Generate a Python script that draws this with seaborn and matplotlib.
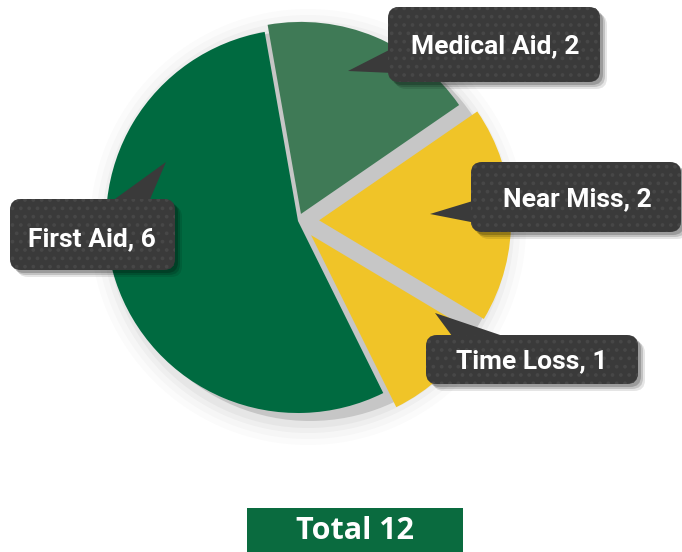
import numpy as np
import pandas as pd
import seaborn as sns
import matplotlib.pyplot as plt
from matplotlib.patches import FancyBboxPatch, Polygon, Circle, Rectangle

# Data (wedge order as drawn, going round from the top)
categories = ['First Aid', 'Time Loss', 'Near Miss', 'Medical Aid']
counts = [6, 1, 2, 2]
total_shown = 12
slice_colors = ['#006a40', '#f0c428', '#f0c428', '#3f7a56']

# Layout of the callouts in pixel space: box (x, y, w, h), text centre, pointer
callouts = {
    'Medical Aid': dict(box=(388, 7, 212, 75), text=(495, 46),
                        tip=[(393, 48), (393, 73), (348, 71)]),
    'Near Miss': dict(box=(471, 162, 210, 70), text=(577, 199),
                      tip=[(476, 200), (476, 223), (430, 214)]),
    'First Aid': dict(box=(10, 199, 165, 71), text=(92, 239),
                      tip=[(108, 204), (148, 204), (166, 162)]),
    'Time Loss': dict(box=(426, 335, 212, 49), text=(532, 361),
                      tip=[(455, 340), (515, 340), (435, 313)]),
}


def draw_callout(ax, label, value, spec):
    x, y, w, h = spec['box']
    # soft drop shadow
    for off, a in [(7, 0.10), (5, 0.15), (3, 0.20)]:
        ax.add_patch(FancyBboxPatch((x + off, y + off), w, h,
                                    boxstyle='round,pad=0,rounding_size=11',
                                    fc='black', ec='none', alpha=a, zorder=5))
    ax.add_patch(Polygon(spec['tip'], closed=True, fc='#3a3a3a', ec='none', zorder=6))
    ax.add_patch(FancyBboxPatch((x, y), w, h,
                                boxstyle='round,pad=0,rounding_size=11',
                                fc='#3a3a3a', ec='none', zorder=6))
    # dotted texture
    ax.add_patch(FancyBboxPatch((x, y), w, h,
                                boxstyle='round,pad=0,rounding_size=11',
                                fc='none', ec='#474747', lw=0, hatch='..', zorder=6.5))
    tx, ty = spec['text']
    ax.text(tx, ty, f'{label}, {value}', color='white', fontsize=19,
            fontweight='bold', ha='center', va='center', zorder=7,
            family=['Roboto', 'DejaVu Sans'])


def main():
    sns.set_theme(style='white')
    plt.rcParams['font.family'] = ['Open Sans', 'DejaVu Sans']
    plt.rcParams['hatch.linewidth'] = 1.5

    fig = plt.figure(figsize=(6.82, 5.52), dpi=100)
    ax = fig.add_axes([0, 0, 1, 1])

    cx, cy, r = 298, 221, 192

    # shadow under the pie
    for rr, a in [(218, 0.03), (212, 0.04), (206, 0.06), (201, 0.08)]:
        ax.add_patch(Circle((cx + 10, cy + 6), rr, fc='#808080', ec='none', alpha=a, zorder=0))
    ax.add_patch(Circle((cx + 12, cy + 4), 196, fc='#c6c6c6', ec='none', zorder=0.5))

    # pie explode is an absolute offset, so scale by the radius
    explode = [0.0 * r, 0.10 * r, 0.11 * r, 0.04 * r]
    ax.pie(counts, colors=slice_colors, startangle=-100, counterclock=False,
           explode=explode, center=(cx, cy), radius=r,
           wedgeprops=dict(linewidth=0, zorder=2))

    for label, value in zip(categories, counts):
        draw_callout(ax, label, value, callouts[label])

    # total banner
    ax.add_patch(Rectangle((247, 508), 216, 50, fc='#0a6b3f', ec='none', zorder=5))
    ax.text(355, 531, f'Total {total_shown}', color='white', fontsize=22,
            fontweight='bold', ha='center', va='center', zorder=6)

    ax.set_xlim(0, 682)
    ax.set_ylim(552, 0)
    ax.set_aspect('equal')
    ax.set_axis_off()
    fig.savefig('out.png', dpi=100, facecolor='white')


if __name__ == '__main__':
    main()
